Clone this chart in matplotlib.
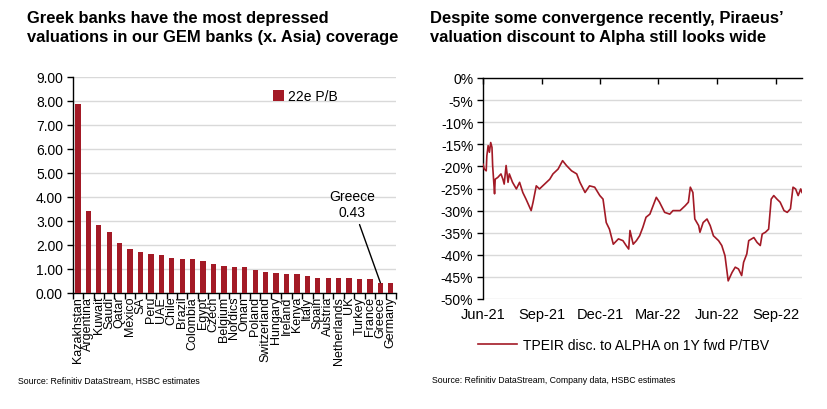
import matplotlib
matplotlib.use('Agg')
import matplotlib.pyplot as plt
import matplotlib.dates as mdates
import pandas as pd

plt.rcParams['font.family'] = ['Liberation Sans', 'DejaVu Sans']

RED = '#A31A26'
GRID = '#D9D9D9'

# left chart: 22e P/B by market
countries = ['Kazakhstan', 'Argentina', 'Kuwait', 'Saudi', 'Qatar', 'Mexico', 'SA', 'Peru',
             'UAE', 'Chile', 'Brazil', 'Colombia', 'Egypt', 'Czech', 'Belgium', 'Nordics',
             'Oman', 'Poland', 'Switzerland', 'Hungary', 'Ireland', 'Kenya', 'Italy', 'Spain',
             'Austria', 'Netherlands', 'UK', 'Turkey', 'France', 'Greece', 'Germany']
pb_22e = [7.87, 3.40, 2.83, 2.52, 2.07, 1.82, 1.70, 1.64, 1.58, 1.45, 1.40, 1.40, 1.33,
          1.21, 1.14, 1.08, 1.08, 0.97, 0.89, 0.84, 0.77, 0.77, 0.71, 0.64, 0.64, 0.64,
          0.64, 0.59, 0.59, 0.43, 0.41]

# right chart: TPEIR discount to ALPHA (%)
disc_dates = ['2021-06-01', '2021-06-03', '2021-06-06', '2021-06-07', '2021-06-09', '2021-06-11',
              '2021-06-13', '2021-06-15', '2021-06-16', '2021-06-19', '2021-06-20', '2021-06-24',
              '2021-06-29', '2021-07-02', '2021-07-04', '2021-07-07', '2021-07-10', '2021-07-12',
              '2021-07-17', '2021-07-23', '2021-07-28', '2021-08-02', '2021-08-07', '2021-08-15',
              '2021-08-18', '2021-08-23', '2021-08-28', '2021-09-05', '2021-09-13', '2021-09-18',
              '2021-09-26', '2021-10-03', '2021-10-09', '2021-10-17', '2021-10-25', '2021-10-30',
              '2021-11-07', '2021-11-14', '2021-11-22', '2021-11-30', '2021-12-05', '2021-12-10',
              '2021-12-15', '2021-12-21', '2021-12-29', '2022-01-05', '2022-01-10', '2022-01-14',
              '2022-01-16', '2022-01-21', '2022-01-26', '2022-01-31', '2022-02-05', '2022-02-10',
              '2022-02-16', '2022-02-21', '2022-02-26', '2022-03-03', '2022-03-11', '2022-03-19',
              '2022-03-24', '2022-04-04', '2022-04-12', '2022-04-17', '2022-04-20', '2022-04-24',
              '2022-04-27', '2022-05-03', '2022-05-05', '2022-05-10', '2022-05-16', '2022-05-21',
              '2022-05-26', '2022-06-03', '2022-06-08', '2022-06-13', '2022-06-18', '2022-06-24',
              '2022-06-29', '2022-07-04', '2022-07-09', '2022-07-12', '2022-07-17', '2022-07-20',
              '2022-07-28', '2022-08-02', '2022-08-07', '2022-08-10', '2022-08-15', '2022-08-20',
              '2022-08-24', '2022-08-28', '2022-09-02', '2022-09-07', '2022-09-13', '2022-09-18',
              '2022-09-23', '2022-09-27', '2022-10-01', '2022-10-05', '2022-10-09', '2022-10-11']
disc_values = [-19.5, -20.6, -21.0, -17.6, -15.3, -16.8, -14.6, -15.7, -19.8, -26.2, -22.9, -22.5,
               -21.7, -22.9, -24.0, -19.8, -23.6, -21.7, -23.6, -25.1, -23.6, -25.9, -27.4, -30.0,
               -28.1, -24.4, -25.1, -24.0, -22.9, -21.7, -20.6, -18.7, -19.8, -21.0, -21.7, -23.6,
               -25.9, -24.4, -24.7, -26.6, -27.4, -32.7, -34.2, -37.6, -36.4, -36.8, -37.9, -38.7,
               -34.5, -37.6, -36.8, -35.7, -33.8, -31.5, -30.8, -28.9, -27.0, -28.1, -30.4, -30.8,
               -30.0, -30.0, -28.9, -28.1, -24.7, -25.9, -31.9, -33.4, -34.9, -32.7, -31.9, -33.4,
               -35.7, -36.8, -37.9, -40.2, -45.9, -44.0, -42.8, -43.2, -44.7, -41.7, -39.8, -36.8,
               -36.1, -37.2, -37.9, -35.3, -34.9, -34.2, -27.4, -26.6, -27.4, -28.1, -30.0, -30.4,
               -29.6, -24.7, -25.1, -26.6, -25.1, -25.9]
quarter_ticks = ['2021-06-01', '2021-09-01', '2021-12-01', '2022-03-01', '2022-06-01', '2022-09-01']

fig = plt.figure(figsize=(8.27, 4.10), dpi=100)

# titles and sources
fig.text(27 / 827, 1 - 11 / 410, 'Greek banks have the most depressed\nvaluations in our GEM banks (x. Asia) coverage',
         fontsize=11.9, fontweight='bold', va='top', ha='left', linespacing=1.3)
fig.text(430 / 827, 1 - 11 / 410, 'Despite some convergence recently, Piraeus\u2019\nvaluation discount to Alpha still looks wide',
         fontsize=11.9, fontweight='bold', va='top', ha='left', linespacing=1.3)
fig.text(18 / 827, 1 - 381 / 410, 'Source: Refinitiv DataStream, HSBC estimates', fontsize=6.3, va='center')
fig.text(432 / 827, 1 - 381 / 410, 'Source: Refinitiv DataStream, Company data, HSBC estimates', fontsize=6.3, va='center')

# ---- left chart
ax1 = fig.add_axes([72.7 / 827, 1 - 294 / 410, (396 - 72.7) / 827, (294 - 77.7) / 410])
x = list(range(len(countries)))
ax1.bar(x, pb_22e, width=0.5, color=RED, label='22e P/B', zorder=3)
ax1.set_xlim(-0.5, len(countries) - 0.5)
ax1.set_ylim(0, 9)
ax1.set_yticks([i for i in range(10)])
ax1.set_yticklabels(['%.2f' % i for i in range(10)], fontsize=10)
ax1.set_xticks(x)
ax1.set_xticklabels(countries, rotation=90, fontsize=9)
ax1.set_xticks([i - 0.5 for i in range(len(countries) + 1)], minor=True)
ax1.tick_params(axis='x', which='major', length=0, pad=2)
ax1.tick_params(axis='x', which='minor', length=4, width=1, direction='out')
ax1.tick_params(axis='y', length=4, width=1, direction='out', pad=3)
ax1.grid(axis='y', color=GRID, linewidth=1, zorder=0)
for s in ['top', 'right']:
    ax1.spines[s].set_visible(False)
ax1.spines['left'].set_linewidth(1)
ax1.spines['bottom'].set_linewidth(1)
ax1.legend(loc='upper right', bbox_to_anchor=(0.86, 1.0), frameon=False, fontsize=10,
           handlelength=0.8, handleheight=0.8, handletextpad=0.3)
gi = countries.index('Greece')
ax1.annotate('Greece\n%.2f' % pb_22e[gi], xy=(gi, pb_22e[gi]), xytext=(26.3, 3.7),
             ha='center', va='center', fontsize=10,
             arrowprops=dict(arrowstyle='-', color='black', lw=1, shrinkA=2, shrinkB=0))

# ---- right chart
ax2 = fig.add_axes([483 / 827, 1 - 300 / 410, (802 - 483) / 827, (300 - 79) / 410])
dates = pd.to_datetime(disc_dates)
ax2.plot(dates, disc_values, color=RED, linewidth=1.2, label='TPEIR disc. to ALPHA on 1Y fwd P/TBV', zorder=3)
ax2.set_ylim(-50, 0)
ax2.set_xlim(pd.Timestamp('2021-06-01'), pd.Timestamp('2022-10-11'))
ax2.set_yticks(list(range(-50, 1, 5)))
ax2.set_yticklabels(['%d%%' % v for v in range(-50, 1, 5)], fontsize=10)
ax2.set_xticks(pd.to_datetime(quarter_ticks))
ax2.xaxis.set_major_formatter(mdates.DateFormatter('%b-%y'))
ax2.tick_params(axis='x', labelsize=10.5, bottom=False, top=True, direction='in', length=4, width=1, pad=6)
ax2.tick_params(axis='y', length=4, width=1, direction='out', pad=3)
ax2.grid(axis='y', color=GRID, linewidth=1, zorder=0)
ax2.spines['right'].set_visible(False)
ax2.spines['bottom'].set_visible(False)
ax2.spines['top'].set_linewidth(1)
ax2.spines['left'].set_linewidth(1)
ax2.legend(loc='upper center', bbox_to_anchor=(0.44, -0.12), frameon=False, fontsize=10,
           handlelength=2.8, handletextpad=0.4)

fig.savefig('out.png', dpi=100)
